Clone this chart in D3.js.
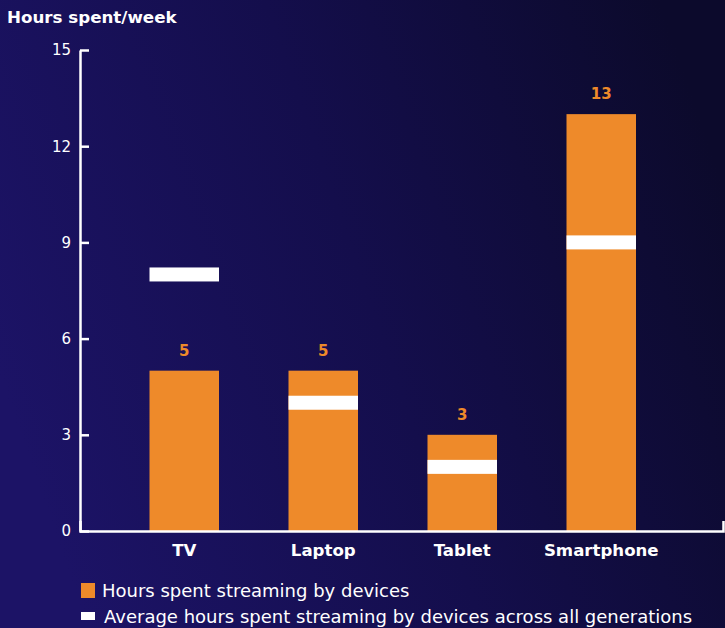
<!DOCTYPE html>
<html>
<head>
<meta charset="utf-8">
<script src="https://cdn.jsdelivr.net/npm/d3@7"></script>
<style>
  html, body { margin: 0; padding: 0; background: #120d45; }
  svg { display: block; }
</style>
</head>
<body>
<svg id="chart" width="725" height="628"></svg>
<script>
// Streaming hours per device
const devices = ["TV", "Laptop", "Tablet", "Smartphone"];
const hoursByDevice = [5, 5, 3, 13];
const averageAllGenerations = [8, 4, 2, 9];
const yTicks = [0, 3, 6, 9, 12, 15];
const legendLabels = [
  "Hours spent streaming by devices",
  "Average hours spent streaming by devices across all generations"
];

const W = 725, H = 628;
const orange = "#ee8a2a";
const white = "#ffffff";
const font = "'DejaVu Sans', sans-serif";

const svg = d3.select("#chart");

// background gradient
const defs = svg.append("defs");
const grad = defs.append("linearGradient")
  .attr("id", "bg").attr("x1", "0").attr("y1", "0.6").attr("x2", "1").attr("y2", "0.3");
grad.append("stop").attr("offset", "0").attr("stop-color", "#1c1366");
grad.append("stop").attr("offset", "0.5").attr("stop-color", "#140e4c");
grad.append("stop").attr("offset", "1").attr("stop-color", "#0c0a2c");
svg.append("rect").attr("width", W).attr("height", H).attr("fill", "url(#bg)");

const x0 = 80, yBase = 531, yTop = 50;

const x = d3.scaleBand().domain(devices).range([x0, 705.5]).paddingInner(0.5).paddingOuter(0.5);
const y = d3.scaleLinear().domain([0, 15]).range([yBase, yTop]);

// title
svg.append("text")
  .attr("x", 7).attr("y", 23)
  .attr("fill", white)
  .attr("font-family", font).attr("font-weight", 700).attr("font-size", 16.7)
  .text("Hours spent/week");

// bars
svg.append("g").selectAll("rect")
  .data(devices.map((d, i) => ({ d, v: hoursByDevice[i] })))
  .join("rect")
  .attr("x", p => x(p.d))
  .attr("width", x.bandwidth())
  .attr("y", p => y(p.v))
  .attr("height", p => y(0) - y(p.v))
  .attr("fill", orange);

// value labels
svg.append("g").selectAll("text")
  .data(devices.map((d, i) => ({ d, v: hoursByDevice[i] })))
  .join("text")
  .attr("x", p => x(p.d) + x.bandwidth() / 2)
  .attr("y", p => y(p.v) - 15)
  .attr("text-anchor", "middle")
  .attr("fill", orange)
  .attr("font-family", font).attr("font-weight", 700).attr("font-size", 15)
  .text(p => p.v);

// average markers
const markerH = 14;
svg.append("g").selectAll("rect")
  .data(devices.map((d, i) => ({ d, v: averageAllGenerations[i] })))
  .join("rect")
  .attr("x", p => x(p.d))
  .attr("width", x.bandwidth())
  .attr("y", p => y(p.v) - markerH / 2)
  .attr("height", markerH)
  .attr("fill", white);

// y axis
const yAxis = svg.append("g")
  .attr("transform", `translate(${x0},0)`)
  .call(d3.axisLeft(y).tickValues(yTicks).tickSize(-9).tickSizeOuter(0).tickPadding(9));
yAxis.select(".domain").attr("stroke", white).attr("stroke-width", 2.5);
yAxis.selectAll(".tick line").attr("stroke", white).attr("stroke-width", 2.5);
yAxis.selectAll(".tick text")
  .attr("fill", white)
  .attr("font-family", font).attr("font-size", 15);

// x axis line with end tick
const xLine = d3.scaleBand().domain(devices).range([x0, 723]);
const xAxis = svg.append("g")
  .attr("transform", `translate(0,${yBase})`)
  .call(d3.axisTop(xLine).tickValues([]).tickSizeOuter(10));
xAxis.select(".domain").attr("stroke", white).attr("stroke-width", 2.5).attr("fill", "none");

// category labels
svg.append("g").selectAll("text")
  .data(devices)
  .join("text")
  .attr("x", d => x(d) + x.bandwidth() / 2)
  .attr("y", 556)
  .attr("text-anchor", "middle")
  .attr("fill", white)
  .attr("font-family", font).attr("font-weight", 700).attr("font-size", 16.6)
  .text(d => d);

// legend
const legend = svg.append("g");
legend.append("rect").attr("x", 81).attr("y", 583).attr("width", 14).attr("height", 15).attr("fill", orange);
legend.append("text")
  .attr("x", 102).attr("y", 597)
  .attr("fill", white).attr("font-family", font).attr("font-size", 18)
  .text(legendLabels[0]);
legend.append("rect").attr("x", 81).attr("y", 612).attr("width", 14).attr("height", 8).attr("fill", white);
legend.append("text")
  .attr("x", 104).attr("y", 623)
  .attr("fill", white).attr("font-family", font).attr("font-size", 18)
  .text(legendLabels[1]);
</script>
</body>
</html>
